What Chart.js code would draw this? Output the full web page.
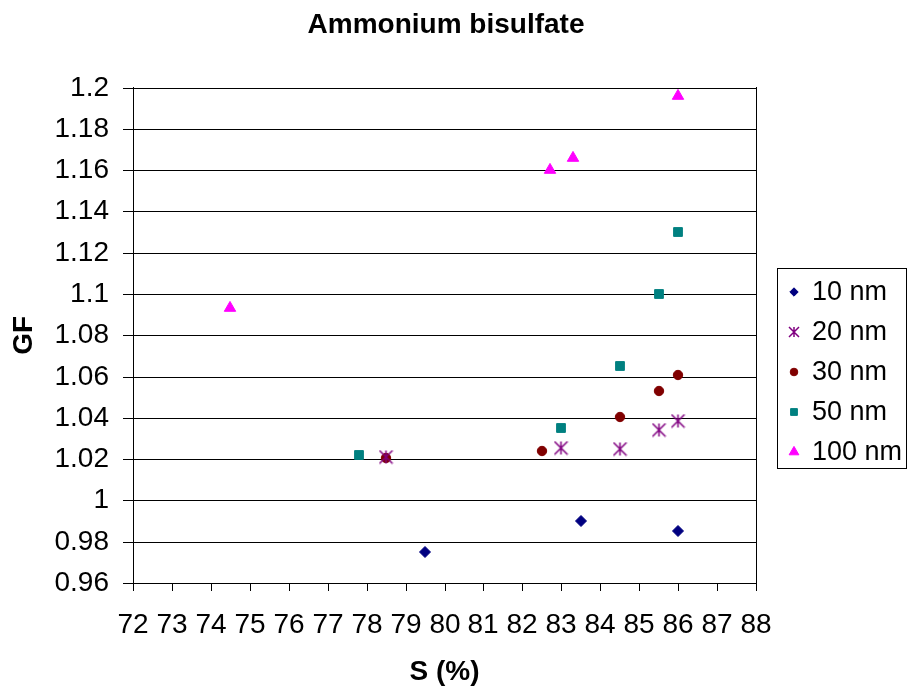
<!DOCTYPE html>
<html>
<head>
<meta charset="utf-8">
<title>Ammonium bisulfate</title>
<script src="https://cdn.jsdelivr.net/npm/chart.js@4.4.1/dist/chart.umd.min.js"></script>
<style>
  body { margin: 0; background: #fff; }
</style>
</head>
<body>
<canvas id="gf_chart" width="907" height="689"></canvas>
<script>
// Values
const seriesNames = ['10 nm', '20 nm', '30 nm', '50 nm', '100 nm']

const s10 = [79.5, 83.5, 86]
const gf10 = [0.975, 0.990, 0.985]

const s20 = [78.5, 83, 84.5, 85.5, 86]
const gf20 = [1.021, 1.0255, 1.025, 1.034, 1.0385]

const s30 = [78.5, 82.5, 84.5, 85.5, 86]
const gf30 = [1.0205, 1.024, 1.0405, 1.053, 1.061]

const s50 = [77.8, 83, 84.5, 85.5, 86]
const gf50 = [1.022, 1.035, 1.065, 1.100, 1.130]

const s100 = [74.5, 82.7, 83.3, 86]
const gf100 = [1.093, 1.160, 1.166, 1.196]

const xMin = 72, xMax = 88, xStep = 1
const yMin = 0.96, yMax = 1.2, yStep = 0.02

const colors = ['#000080', '#800080', '#800000', '#008080', '#FF00FF']

const ctx_gf = document.getElementById('gf_chart')
const FONT = "'Liberation Sans', Arial, sans-serif"

// Excel style asterisk: an X with a vertical stroke
function makeStar(size, color) {
  const c = document.createElement('canvas')
  c.width = size
  c.height = size
  const g = c.getContext('2d')
  g.strokeStyle = color
  g.lineWidth = 1.5
  const m = size / 2, r = size / 2 - 1
  g.beginPath()
  g.moveTo(m, m - r); g.lineTo(m, m + r)
  g.moveTo(m - r, m - r); g.lineTo(m + r, m + r)
  g.moveTo(m + r, m - r); g.lineTo(m - r, m + r)
  g.stroke()
  return c
}

function toPoints(xs, ys) {
  const pts = []
  for (let i = 0; i < xs.length; i++) {
    pts.push({ x: xs[i], y: ys[i] })
  }
  return pts
}

const xsList = [s10, s20, s30, s50, s100]
const ysList = [gf10, gf20, gf30, gf50, gf100]
const styles = ['rectRot', makeStar(15, colors[1]), 'circle', 'rect', 'triangle']
const radii = [5.5, 7, 4.7, 6.2, 6.6]
const legendStyles = ['rectRot', makeStar(12, colors[1]), 'circle', 'rect', 'triangle']
const legendRadii = [4.2, 5.5, 3.8, 4.8, 5.6]

const datasets = []
for (let i = 0; i < seriesNames.length; i++) {
  datasets.push({
    label: seriesNames[i],
    data: toPoints(xsList[i], ysList[i]),
    pointStyle: styles[i],
    pointRadius: radii[i],
    pointHoverRadius: radii[i],
    backgroundColor: colors[i],
    borderColor: colors[i],
    borderWidth: 1,
    showLine: false
  })
}

// legend with a box round it, drawn next to the plot
const boxedLegend = {
  id: 'boxedLegend',
  afterDraw(chart) {
    const c = chart.ctx
    const left = chart.chartArea.right + 21
    const top = 268
    const w = 129, h = 200
    c.save()
    c.strokeStyle = '#000'
    c.lineWidth = 1
    c.strokeRect(left + 0.5, top + 0.5, w, h)
    c.font = '27px ' + FONT
    c.textBaseline = 'middle'
    c.textAlign = 'left'
    for (let i = 0; i < seriesNames.length; i++) {
      const y = top + 24 + i * 40
      c.fillStyle = colors[i]
      c.strokeStyle = colors[i]
      Chart.helpers.drawPoint(c, { pointStyle: legendStyles[i], radius: legendRadii[i], borderWidth: 1, rotation: 0 }, left + 17, y)
      c.fillStyle = '#000'
      c.fillText(seriesNames[i], left + 35, y + 1)
    }
    c.restore()
  }
}

function fmtTick(v) {
  return String(Number(v.toFixed(2)))
}

const gf_chart = new Chart(ctx_gf, {
  type: 'scatter',
  data: { datasets: datasets },
  plugins: [boxedLegend],
  options: {
    responsive: false,
    animation: false,
    events: [],
    layout: { padding: { left: 0, right: 15, top: 0, bottom: 0 } },
    plugins: {
      legend: { display: false },
      tooltip: { enabled: false },
      title: {
        display: true,
        text: 'Ammonium bisulfate',
        color: '#000',
        font: { family: FONT, size: 28, weight: 'bold' },
        padding: { top: 8, bottom: 46 }
      }
    },
    scales: {
      x: {
        type: 'linear',
        position: 'bottom',
        min: xMin,
        max: xMax,
        alignToPixels: true,
        ticks: {
          stepSize: xStep,
          color: '#000',
          padding: 17,
          maxRotation: 0,
          autoSkip: false,
          font: { family: FONT, size: 28 }
        },
        grid: { drawOnChartArea: false, drawTicks: true, tickLength: 8, color: '#000' },
        border: { color: '#000' },
        title: {
          display: true,
          text: 'S (%)',
          color: '#000',
          font: { family: FONT, size: 28, weight: 'bold' },
          padding: { top: 0, bottom: 0 }
        },
        afterFit(scale) { scale.height = 106 }
      },
      y: {
        type: 'linear',
        position: 'left',
        min: yMin,
        max: yMax,
        alignToPixels: true,
        ticks: {
          stepSize: yStep,
          color: '#000',
          padding: 14,
          autoSkip: false,
          font: { family: FONT, size: 28 },
          callback: v => fmtTick(v)
        },
        grid: { color: '#000', tickLength: 10 },
        border: { color: '#000' },
        title: {
          display: true,
          text: 'GF',
          color: '#000',
          font: { family: FONT, size: 28, weight: 'bold' },
          padding: { top: 7, bottom: 0 }
        },
        afterFit(scale) { scale.width = 133 }
      },
      y2: {
        type: 'linear',
        position: 'right',
        min: yMin,
        max: yMax,
        alignToPixels: true,
        ticks: { display: false },
        grid: { drawOnChartArea: false, drawTicks: false },
        border: { color: '#000' },
        afterFit(scale) { scale.width = 136 }
      }
    }
  }
})
</script>
</body>
</html>
